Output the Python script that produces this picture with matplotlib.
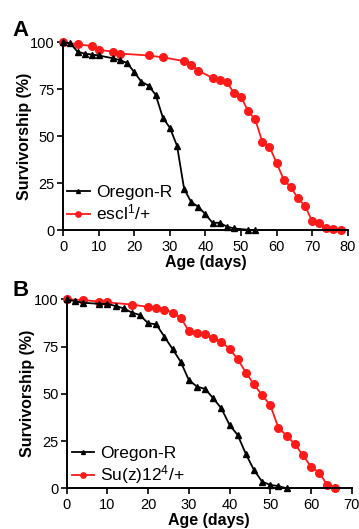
import matplotlib
matplotlib.use("Agg")
import matplotlib.pyplot as plt

plt.rcParams['font.family'] = ['Liberation Sans', 'DejaVu Sans']
plt.rcParams['mathtext.default'] = 'regular'

# Panel A data
a_ore_days = [0, 2, 4, 6, 8, 10, 14, 16, 18, 20, 22, 24, 26, 28, 30, 32, 34, 36, 38, 40, 42, 44, 46, 48, 52, 54]
a_ore_surv = [100, 99.5, 95, 94, 93.5, 93, 91.5, 90.5, 89, 84, 79, 77, 72, 60, 54.5, 45, 22, 15, 12.5, 8.5, 4, 4, 2, 1, 0.3, 0]
a_esc_days = [0, 4, 8, 10, 14, 16, 24, 28, 34, 36, 38, 42, 44, 46, 48, 50, 52, 54, 56, 58, 60, 62, 64, 66, 68, 70, 72, 74, 76, 78]
a_esc_surv = [100, 99, 98, 96, 95, 94, 93, 92, 90, 88, 85, 81, 80, 79, 73, 71, 63.5, 59, 47, 44.5, 36, 27, 23, 17, 13, 5, 4, 1, 0.5, 0]

# Panel B data
b_ore_days = [0, 2, 4, 8, 10, 12, 14, 16, 18, 20, 22, 24, 26, 28, 30, 32, 34, 36, 38, 40, 42, 44, 46, 48, 50, 52, 54]
b_ore_surv = [100, 99, 98.2, 97.6, 97.5, 96.5, 95.2, 93, 91.7, 87.3, 86.8, 80.2, 73.7, 67, 57.3, 53.8, 52.6, 47.6, 42.3, 33.5, 28.2, 18.2, 9.7, 3.5, 1.8, 1.2, 0]
b_suz_days = [0, 4, 8, 10, 16, 20, 22, 24, 26, 28, 30, 32, 34, 36, 38, 40, 42, 44, 46, 48, 50, 52, 54, 56, 58, 60, 62, 64, 66]
b_suz_surv = [100, 99.6, 98.8, 98.4, 97.2, 96, 95.4, 94.4, 93, 90.3, 83.2, 82, 81.5, 79.4, 77.6, 73.7, 68.4, 61.2, 55, 49.2, 44, 32, 27.9, 23.5, 17.5, 11.5, 8.3, 1.8, 0]

x_ticks_a = [0, 10, 20, 30, 40, 50, 60, 70, 80]
x_ticks_b = [0, 10, 20, 30, 40, 50, 60, 70]
y_ticks = [0, 25, 50, 75, 100]

RED = '#ff1a1a'

fig = plt.figure(figsize=(3.59, 5.29), dpi=100)
axA = fig.add_axes([0.1763, 0.5646, 0.792, 0.3554])
axB = fig.add_axes([0.1857, 0.0769, 0.794, 0.3573])


def style(ax, xt, xmax):
    ax.set_xlim(0, xmax)
    ax.set_ylim(0, 100)
    ax.set_xticks(xt)
    ax.set_yticks(y_ticks)
    for s in ['top', 'right']:
        ax.spines[s].set_visible(False)
    for s in ['left', 'bottom']:
        ax.spines[s].set_linewidth(1.4)
    ax.tick_params(direction='out', length=4, width=1.2, labelsize=10.5, pad=2)
    ax.tick_params(axis='x', pad=3)
    ax.set_ylabel('Survivorship (%)', fontsize=11.5, fontweight='bold', labelpad=-1)
    ax.set_xlabel('Age (days)', fontsize=11.5, fontweight='bold', labelpad=1)


axA.plot(a_ore_days, a_ore_surv, color='black', marker='^', markersize=4, lw=1.3,
         label='Oregon-R', clip_on=False, zorder=3)
axA.plot(a_esc_days, a_esc_surv, color=RED, marker='o', markersize=5.5, lw=1.3,
         label='escl$^{1}$/+', clip_on=False, zorder=2)
style(axA, x_ticks_a, 80)
axA.legend(loc='upper left', bbox_to_anchor=(0.013, 0.24), frameon=False, fontsize=12.5,
           borderpad=0, borderaxespad=0, handlelength=1.3, handletextpad=0.35,
           labelspacing=0.15, markerscale=0.7)

axB.plot(b_ore_days, b_ore_surv, color='black', marker='^', markersize=4, lw=1.3,
         label='Oregon-R', clip_on=False, zorder=3)
axB.plot(b_suz_days, b_suz_surv, color=RED, marker='o', markersize=5.5, lw=1.3,
         label='Su(z)12$^{4}$/+', clip_on=False, zorder=2)
style(axB, x_ticks_b, 70)
axB.legend(loc='upper left', bbox_to_anchor=(0.018, 0.225), frameon=False, fontsize=12.5,
           borderpad=0, borderaxespad=0, handlelength=1.3, handletextpad=0.35,
           labelspacing=0.15, markerscale=0.7)

fig.text(12 / 359, 1 - 36 / 529, 'A', fontsize=16, fontweight='bold', ha='left', va='baseline')
fig.text(12 / 359, 1 - 296 / 529, 'B', fontsize=16, fontweight='bold', ha='left', va='baseline')

fig.savefig('out.png', dpi=100)
